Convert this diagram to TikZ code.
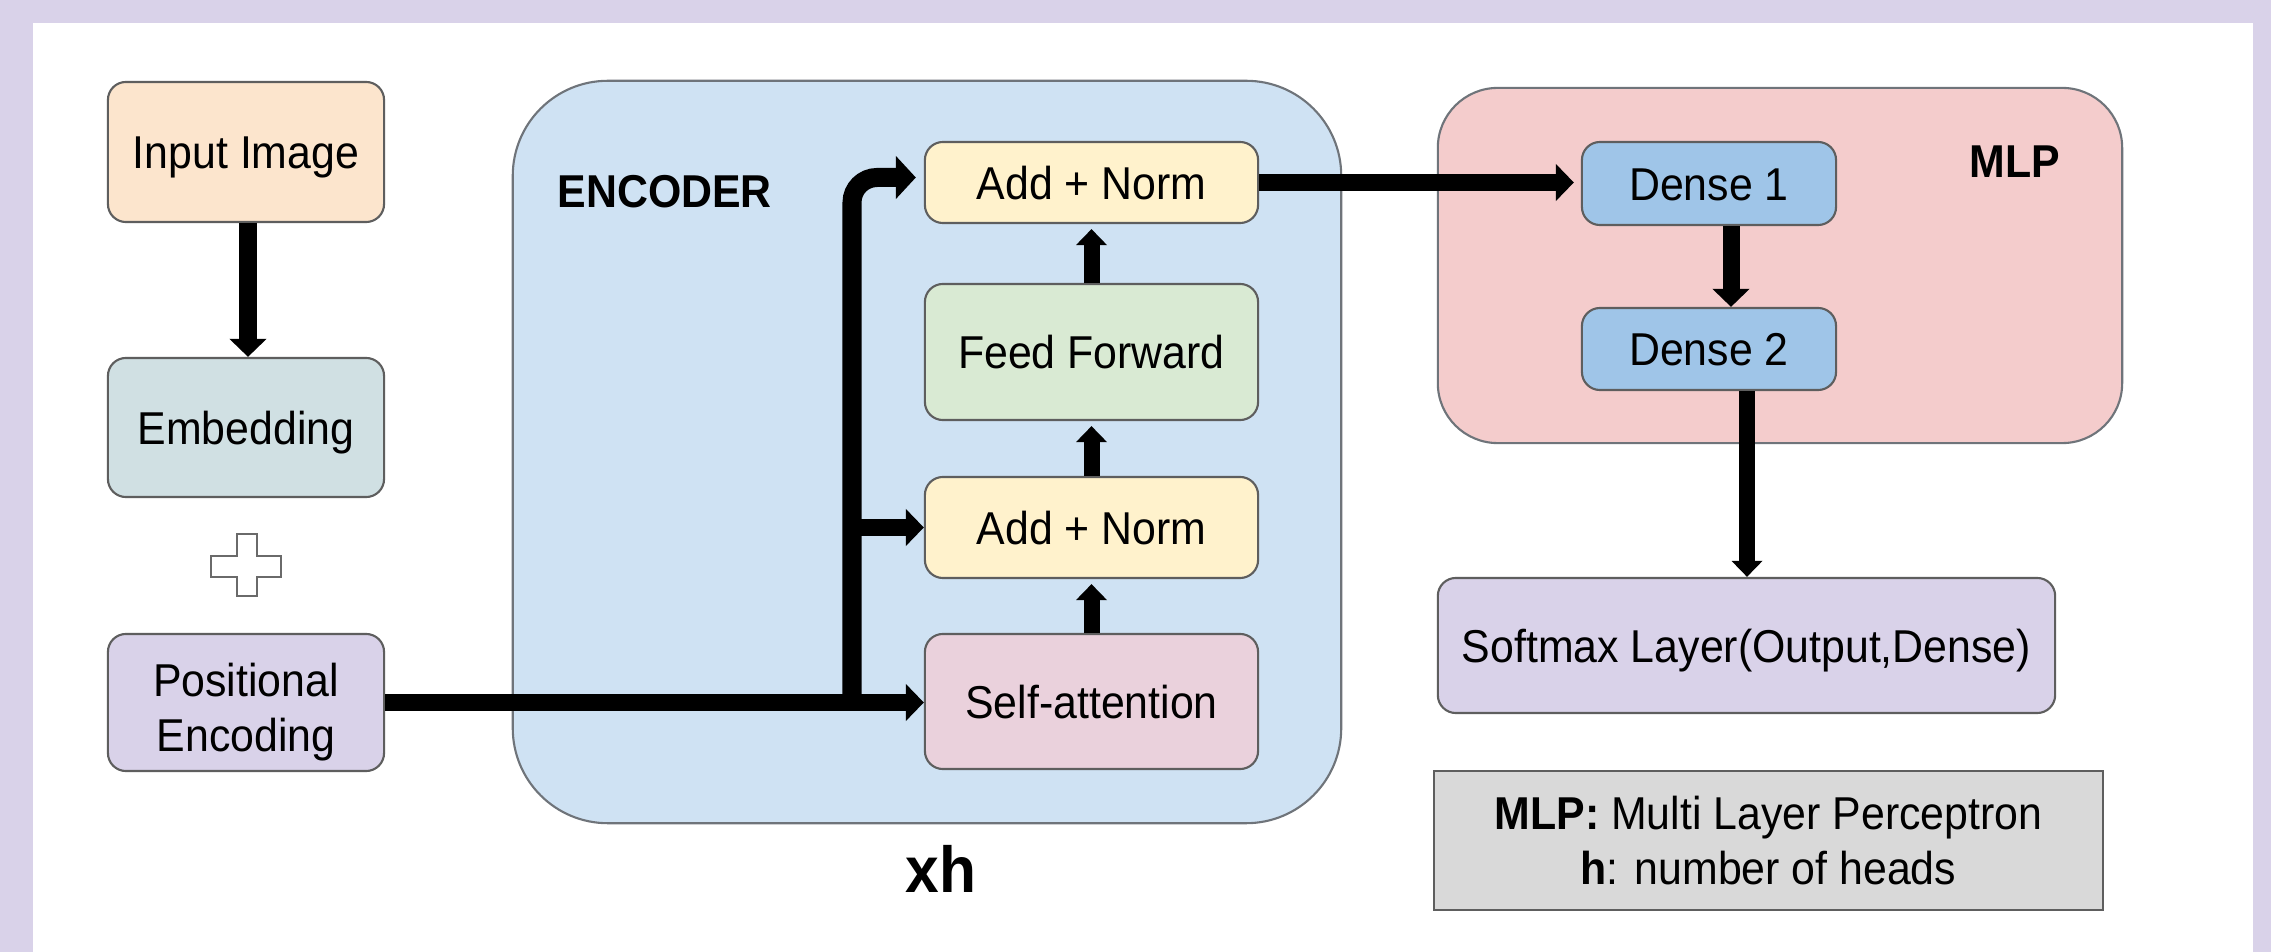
\documentclass[tikz,border=0pt]{standalone}
\usepackage{fontspec}
\setmainfont{Liberation Sans}[FakeStretch=0.93]
\usetikzlibrary{arrows.meta,calc}

\definecolor{frame}{HTML}{D9D2E9}
\definecolor{boxline}{HTML}{5E5E5E}
\definecolor{panelline}{HTML}{6F747A}
\definecolor{plusline}{HTML}{6A6A6A}
\definecolor{cInput}{HTML}{FCE5CD}
\definecolor{cEmbed}{HTML}{D0E0E3}
\definecolor{cPos}{HTML}{D9D2E9}
\definecolor{cEnc}{HTML}{CFE2F3}
\definecolor{cNorm}{HTML}{FFF2CC}
\definecolor{cFeed}{HTML}{D9EAD3}
\definecolor{cAttn}{HTML}{EAD1DC}
\definecolor{cMlp}{HTML}{F4CCCC}
\definecolor{cDense}{HTML}{9FC5E8}
\definecolor{cSoft}{HTML}{D9D2E9}
\definecolor{cNote}{HTML}{D9D9D9}

\newcommand{\dgfont}{\fontsize{13.1pt}{15.6pt}\selectfont}
\newcommand{\xhfont}{\fontsize{18.5pt}{22pt}\selectfont\bfseries}

\begin{document}
\begin{tikzpicture}[x=0.01cm, y=-0.01cm,
  box/.style={draw=boxline, line width=0.6pt, rounded corners=0.18cm,
    inner sep=0pt, font=\dgfont, text height=9.4pt, text depth=0pt},
  panel/.style={draw=panelline, line width=0.6pt, inner sep=0pt},
  flow/.style={line width=0.17cm, -{Triangle[width=0.36cm,length=0.18cm]}},
  smallflow/.style={line width=0.16cm, -{Triangle[width=0.30cm,length=0.16cm]}},
]
% page and white sheet
\useasboundingbox (0,0) rectangle (2271,952);
\fill[frame] (0,0) rectangle (2271,952);
\fill[white] (33,23) rectangle (2253,952);

% input column
\node[box, fill=cInput, minimum width=2.76cm, minimum height=1.40cm] (inimg) at (246,152) {Input Image};
\node[box, fill=cEmbed, minimum width=2.76cm, minimum height=1.39cm] (emb) at (246,427.5) {Embedding};
\node[box, fill=cPos, minimum width=2.76cm, minimum height=1.37cm] (pos) at (246,702.5) {};
\node[font=\dgfont, align=center, inner sep=0pt] (postext) at ([yshift=-0.1cm]pos.center) {Positional\\Encoding};

% plus sign between embedding and positional encoding
\draw[draw=plusline, line width=0.8pt, fill=white]
  (237,534) -- (257,534) -- (257,556) -- (281,556) -- (281,577) -- (257,577)
  -- (257,596) -- (237,596) -- (237,577) -- (211,577) -- (211,556) -- (237,556) -- cycle;

% encoder block
\node[panel, fill=cEnc, rounded corners=0.95cm, minimum width=8.28cm, minimum height=7.42cm] (enc) at (927,452) {};
\node[font=\dgfont\bfseries, anchor=base west, inner sep=0pt] (enclabel) at (557,208) {ENCODER};
\node[box, fill=cNorm, minimum width=3.33cm, minimum height=0.81cm] (an2) at (1091.5,182.5) {Add + Norm};
\node[box, fill=cFeed, minimum width=3.33cm, minimum height=1.36cm] (ff) at (1091.5,352) {Feed Forward};
\node[box, fill=cNorm, minimum width=3.33cm, minimum height=1.01cm] (an1) at (1091.5,527.5) {Add + Norm};
\node[box, fill=cAttn, minimum width=3.33cm, minimum height=1.35cm] (sa) at (1091.5,701.5) {Self-attention};
\node[font=\xhfont, anchor=base, inner sep=0pt] (xh) at (941,893) {xh};

% MLP block
\node[panel, fill=cMlp, rounded corners=0.6cm, minimum width=6.84cm, minimum height=3.55cm] (mlp) at (1780,265.5) {};
\node[font=\dgfont\bfseries, anchor=base, inner sep=0pt] (mlplabel) at (2015,178) {MLP};
\node[box, fill=cDense, minimum width=2.54cm, minimum height=0.83cm] (d1) at (1709,183.5) {Dense 1};
\node[box, fill=cDense, minimum width=2.54cm, minimum height=0.82cm] (d2) at (1709,349) {Dense 2};

% output and legend
\node[box, fill=cSoft, minimum width=6.17cm, minimum height=1.35cm] (soft) at (1746.5,645.5) {Softmax Layer(Output,Dense)};
\node[draw=boxline, line width=0.7pt, fill=cNote, inner sep=0pt, minimum width=6.69cm, minimum height=1.39cm,
  font=\fontsize{13.1pt}{15.4pt}\selectfont, align=center] (legend) at (1768.5,840.5)
  {\textbf{MLP:} Multi Layer Perceptron\\\textbf{h}: number of heads};

% connectors
\coordinate (br) at (852,702);
\draw[flow] ([xshift=0.02cm]inimg.south) -- ([xshift=0.02cm]emb.north);
\draw[flow] (pos.east) -- (pos.east -| sa.west);
\draw[line width=0.19cm, rounded corners=0.25cm, -{Triangle[width=0.42cm,length=0.2cm]}, shorten >=0.08cm]
  (br) |- ([yshift=0.05cm]an2.west);
\draw[flow] (br |- an1.west) -- (an1.west);
\draw[smallflow, shorten >=0.05cm] (sa.north) -- (an1.south);
\draw[smallflow, shorten >=0.05cm] (an1.north) -- (ff.south);
\draw[smallflow, shorten >=0.05cm] (ff.north) -- (an2.south);
\draw[flow, shorten >=0.07cm] (an2.east) -- (an2.east -| d1.west);
\draw[flow] ([xshift=0.22cm]d1.south) -- ([xshift=0.22cm]d2.north);
\draw[smallflow] ([xshift=0.38cm]d2.south) -- ([xshift=0.38cm]d2.south |- soft.north);
\end{tikzpicture}
\end{document}
